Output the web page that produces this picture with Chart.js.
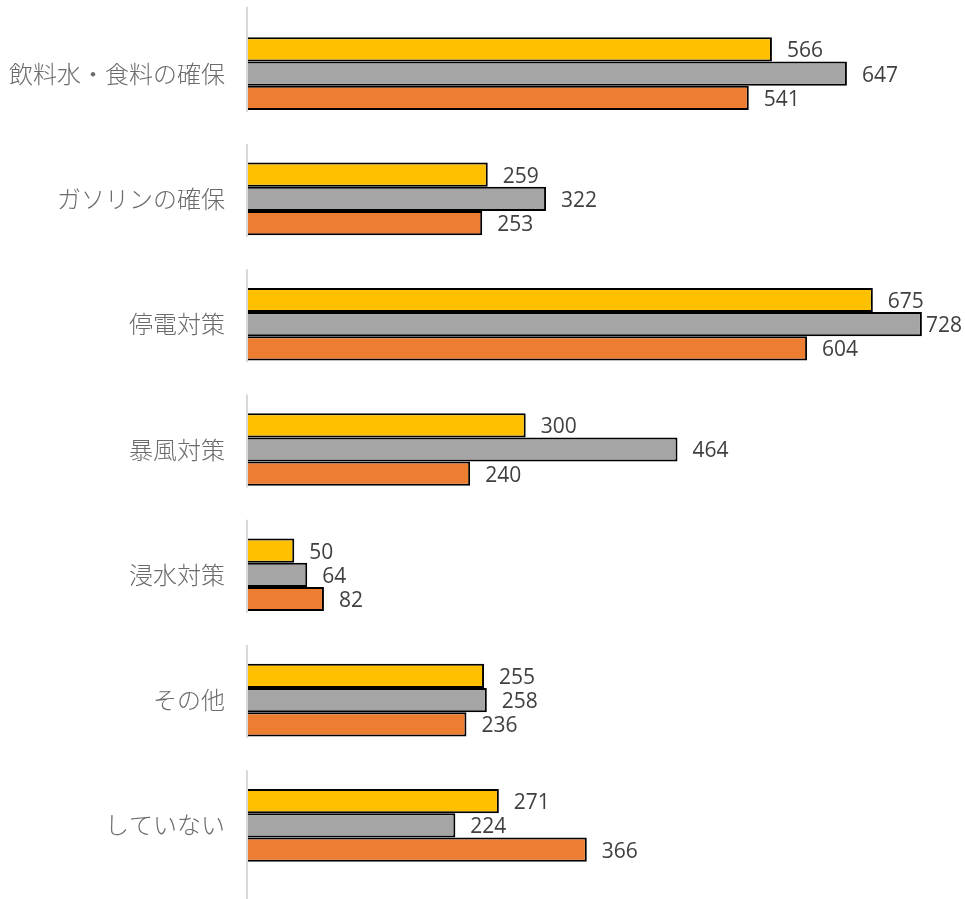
<!DOCTYPE html>
<html>
<head>
<meta charset="utf-8">
<script src="https://cdn.jsdelivr.net/npm/chart.js@4"></script>
<style>
	html, body { margin: 0; padding: 0; background: #fff; }
	#wrap { width: 965px; height: 899px; }
</style>
</head>
<body>
<div id="wrap"><canvas id="chart1"></canvas></div>
<script>
var categories = ['飲料水・食料の確保', 'ガソリンの確保', '停電対策', '暴風対策', '浸水対策', 'その他', 'していない'];
var series1 = [566, 259, 675, 300, 50, 255, 271];
var series2 = [647, 322, 728, 464, 64, 258, 224];
var series3 = [541, 253, 604, 240, 82, 236, 366];

var jpFont = '"Noto Sans CJK JP", "Noto Sans", sans-serif';
var numFont = '"Open Sans", "Noto Sans", sans-serif';

// light grey axis stub per category, with gaps between groups
var axisSegments = {
	id: 'axisSegments',
	beforeDatasetsDraw: function(chart) {
		var ctx = chart.ctx;
		var y = chart.scales.y;
		var x0 = chart.chartArea.left;
		ctx.save();
		ctx.strokeStyle = '#d9d9d9';
		ctx.lineWidth = 2;
		for (var i = 0; i < categories.length; i++) {
			var c = y.getPixelForValue(i);
			var top = i === 0 ? c - 67 : c - 55;
			var bottom = i === categories.length - 1 ? chart.height : c + 38;
			ctx.beginPath();
			ctx.moveTo(x0 - 1, top);
			ctx.lineTo(x0 - 1, bottom);
			ctx.stroke();
		}
		ctx.restore();
	}
};

// value labels at the end of each bar, kept inside the canvas
var valueLabels = {
	id: 'valueLabels',
	afterDatasetsDraw: function(chart) {
		var ctx = chart.ctx;
		ctx.save();
		ctx.font = '21px ' + numFont;
		ctx.fillStyle = '#404040';
		ctx.textBaseline = 'middle';
		ctx.textAlign = 'left';
		chart.data.datasets.forEach(function(ds, di) {
			chart.getDatasetMeta(di).data.forEach(function(bar, i) {
				var txt = String(ds.data[i]);
				var w = ctx.measureText(txt).width;
				var x = Math.min(bar.x + 15, chart.width - w - 3);
				ctx.fillText(txt, x, bar.y + 2);
			});
		});
		ctx.restore();
	}
};

var ctx = document.getElementById('chart1').getContext('2d');
new Chart(ctx, {
	type: 'bar',
	data: {
		labels: categories,
		datasets: [{
			label: '系列1',
			data: series1,
			backgroundColor: '#FFC000'
		}, {
			label: '系列2',
			data: series2,
			backgroundColor: '#A5A5A5'
		}, {
			label: '系列3',
			data: series3,
			backgroundColor: '#ED7D31'
		}]
	},
	options: {
		indexAxis: 'y',
		responsive: true,
		maintainAspectRatio: false,
		animation: false,
		layout: {
			padding: { top: 11, bottom: 11, left: 0, right: 32 }
		},
		datasets: {
			bar: {
				borderColor: '#000',
				borderWidth: 2,
				categoryPercentage: 0.58,
				barPercentage: 1.0
			}
		},
		plugins: {
			legend: { display: false },
			tooltip: { enabled: false }
		},
		scales: {
			x: {
				min: 0,
				max: 740,
				display: false,
				grid: { display: false }
			},
			y: {
				grid: { display: false },
				border: { display: false },
				afterFit: function(scale) {
					scale.width = 248;
					scale.paddingTop = 0;
					scale.paddingBottom = 0;
				},
				ticks: {
					color: '#6b6b6b',
					padding: 15,
					font: { family: jpFont, size: 24, weight: '300' }
				}
			}
		}
	},
	plugins: [axisSegments, valueLabels]
});
</script>
</body>
</html>
